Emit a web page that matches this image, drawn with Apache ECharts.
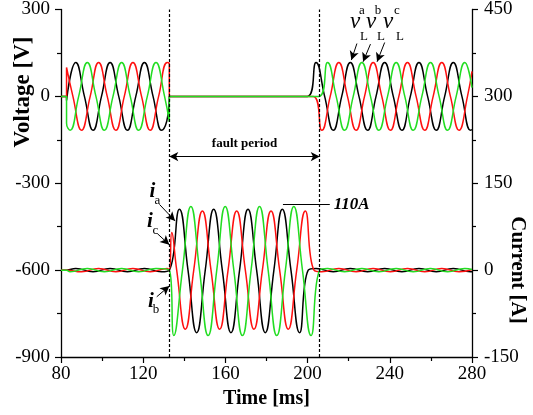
<!DOCTYPE html>
<html>
<head>
<meta charset="utf-8">
<script src="https://cdn.jsdelivr.net/npm/echarts@6/dist/echarts.min.js"></script>
<style>
  html, body { margin: 0; padding: 0; background: #fff; }
  #chart { width: 533px; height: 415px; }
</style>
</head>
<body>
<div id="chart"></div>
<script>
// time in ms, voltage in V (left axis), current in A (right axis)
const faultStart = 132.7;
const faultEnd = 205.9;

// load voltages (peaks / zero crossings)
const vA = [[80,0],[82.7,0],[82.7,-14],[87.2,117],[91.4,0],[95.6,-117],[99.7,0],[103.9,117],[108.1,0],[112.3,-117],[116.4,0],[120.6,117],[124.8,0],[128.9,-117],[132.7,-14],[132.7,0],
  [199.9,0],[204.1,117],[208.3,0],[212.5,-117],[216.6,0],[220.8,117],[225.0,0],[229.2,-117],[233.3,0],[237.5,117],[241.7,0],[245.9,-117],[250.0,0],[254.2,117],[258.4,0],[262.6,-117],[266.7,0],[270.9,117],[275.1,0],[279.3,-117],[280,-115]];
const vB = [[80,0],[82.7,0],[82.7,-93],[84.4,-117],[88.6,0],[92.8,117],[97.0,0],[101.1,-117],[105.3,0],[109.5,117],[113.7,0],[117.8,-117],[122.0,0],[126.2,117],[130.4,0],[132.7,-88],[132.7,0],
  [205.5,0],[209.7,117],[213.9,0],[218.0,-117],[222.2,0],[226.4,117],[230.6,0],[234.7,-117],[238.9,0],[243.1,117],[247.3,0],[251.4,-117],[255.6,0],[259.8,117],[264.0,0],[268.1,-117],[272.3,0],[276.5,117],[280,30]];
const vC = [[80,0],[82.7,0],[82.7,100],[85.8,0],[90.0,-117],[94.2,0],[98.3,117],[102.5,0],[106.7,-117],[110.8,0],[115.0,117],[119.2,0],[123.4,-117],[127.5,0],[131.7,117],[132.7,112],[132.7,0],
  [202.7,0],[206.9,-117],[211.0,0],[215.2,117],[219.4,0],[223.6,-117],[227.7,0],[231.9,117],[236.1,0],[240.3,-117],[244.4,0],[248.6,117],[252.8,0],[257.0,-117],[261.1,0],[265.3,117],[269.5,0],[273.7,-117],[277.8,0],[280,86]];

// line currents
const iA = [[80,0],[82.7,0],[87.2,3],[95.6,-3],[103.9,3],[112.3,-3],[120.6,3],[128.9,-3],[132.7,0],
  [137.6,105],[141.8,0],[146.0,-108],[150.2,0],[154.3,105],[158.5,0],[162.7,-108],[166.9,0],[171.0,105],[175.2,0],[179.4,-108],[183.6,0],[187.7,105],[191.9,0],[196.1,-108],[200.3,0],
  [204.1,3],[212.5,-3],[220.8,3],[229.2,-3],[237.5,3],[245.9,-3],[254.2,3],[262.6,-3],[270.9,3],[279.3,-3],[280,-3]];
const iB = [[80,0],[82.7,0],[84.4,-3],[92.8,3],[101.1,-3],[109.5,3],[117.8,-3],[126.2,3],[132.7,0],
  [134.9,-113],[139.1,0],[143.2,110],[147.4,0],[151.6,-113],[155.8,0],[159.9,110],[164.1,0],[168.3,-113],[172.5,0],[176.6,110],[180.8,0],[185.0,-113],[189.2,0],[193.3,110],[197.5,0],[201.7,-113],[205.9,0],
  [209.7,3],[218.0,-3],[226.4,3],[234.7,-3],[243.1,3],[251.4,-3],[259.8,3],[268.1,-3],[276.5,3],[280,1]];
const iC = [[80,0],[82.7,0],[90.0,-3],[98.3,3],[106.7,-3],[115.0,3],[123.4,-3],[131.7,3],[132.7,0],
  [133.9,65],[136.3,0],[140.5,-102],[144.6,0],[148.8,102],[153.0,0],[157.2,-102],[161.3,0],[165.5,102],[169.7,0],[173.9,-102],[178.0,0],[182.2,102],[186.4,0],[190.6,-102],[194.7,0],[198.9,102],[203.1,0],
  [206.9,-3],[215.2,3],[223.6,-3],[231.9,3],[240.3,-3],[248.6,3],[257.0,-3],[265.3,3],[273.7,-3],[280,1]];

const serif = '"Liberation Serif", "DejaVu Serif", serif';
const BLACK = '#000000', RED = '#ff1010', GREEN = '#22dd22';

function wave(name, data, color, axis, extra) {
  return Object.assign({
    name: name,
    type: 'line',
    yAxisIndex: axis,
    data: data,
    smooth: 0.5,
    showSymbol: false,
    symbol: 'none',
    clip: true,
    lineStyle: { color: color, width: 1.5 },
    itemStyle: { color: color },
    animation: false
  }, extra || {});
}

// arrow from a label to a curve, in voltage-axis coords
function arrow(x0, y0, x1, y1) {
  return [{ coord: [x0, y0], symbol: 'none' }, { coord: [x1, y1], symbol: 'arrow' }];
}

function txt(s, x, y, font) {
  return {
    type: 'text', x: x, y: y, silent: true, z: 100,
    style: { text: s, font: font, fill: '#000', textAlign: 'center', textVerticalAlign: 'middle', align: 'center', verticalAlign: 'middle' }
  };
}

const axisCommon = {
  axisLine: { show: true, onZero: false, lineStyle: { color: '#000', width: 1.3 } },
  axisTick: { show: true, inside: false, length: 6, lineStyle: { color: '#000', width: 1.2 } },
  minorTick: { show: true, splitNumber: 2, length: 4, lineStyle: { color: '#000', width: 1.2 } },
  splitLine: { show: false },
  axisLabel: { color: '#000', fontFamily: serif, fontSize: 19 }
};

const chart = echarts.init(document.getElementById('chart'), null, { renderer: 'canvas' });

const option = {
  backgroundColor: '#ffffff',
  animation: false,
  grid: { left: 61, right: 61, top: 9, bottom: 58 },
  xAxis: Object.assign({}, axisCommon, {
    type: 'value', min: 80, max: 280, interval: 40,
    name: 'Time [ms]', nameLocation: 'middle', nameGap: 31,
    nameTextStyle: { color: '#000', fontFamily: serif, fontSize: 20, fontWeight: 'bold' },
    axisLabel: Object.assign({}, axisCommon.axisLabel, { margin: 8 })
  }),
  yAxis: [
    Object.assign({}, axisCommon, {
      type: 'value', min: -900, max: 300, interval: 300, position: 'left',
      axisLabel: Object.assign({}, axisCommon.axisLabel, { margin: 11 })
    }),
    Object.assign({}, axisCommon, {
      type: 'value', min: -150, max: 450, interval: 150, position: 'right',
      axisLabel: Object.assign({}, axisCommon.axisLabel, { margin: 12 })
    })
  ],
  series: [
    wave('vLa', vA, BLACK, 0, {
      markLine: {
        silent: true, animation: false,
        symbol: ['none', 'none'], symbolSize: [7, 9],
        label: { show: false },
        lineStyle: { color: '#000', width: 1, type: 'solid' },
        data: [
          { xAxis: faultStart, lineStyle: { type: [3, 2], width: 1.2 } },
          { xAxis: faultEnd, lineStyle: { type: [3, 2], width: 1.2 } },
          [{ coord: [faultStart, -208], symbol: 'arrow',
             label: { show: true, position: 'middle', formatter: 'fault period', color: '#000',
                      fontFamily: serif, fontSize: 13, fontWeight: 'bold',
                      backgroundColor: '#fff', padding: [1, 3] } },
           { coord: [faultEnd, -208], symbol: 'arrow' }],
          [{ coord: [188.0, -373], symbol: 'none',
             label: { show: true, position: 'end', formatter: '110A', color: '#000', distance: 4,
                      fontFamily: serif, fontSize: 17, fontWeight: 'bold', fontStyle: 'italic' } },
           { coord: [210.8, -373], symbol: 'none' }],
          arrow(224.0, 182.5, 221.3, 125.4),
          arrow(230.6, 180.5, 227.0, 119.5),
          arrow(237.5, 186.0, 233.8, 119.5),
          arrow(127.9, -373, 135.5, -430),
          arrow(126.9, -474, 132.7, -512),
          arrow(126.6, -692, 132.7, -655)
        ]
      }
    }),
    wave('vLc', vC, RED, 0),
    wave('vLb', vB, GREEN, 0),
    wave('ia', iA, BLACK, 1),
    wave('ic', iC, RED, 1),
    wave('ib', iB, GREEN, 1)
  ],
  graphic: [
    txt('Voltage [V]', 23, 92, 'bold 23px ' + serif),
    Object.assign(txt('Current [A]', 517, 270, 'bold 21px ' + serif), { rotation: -Math.PI / 2 }),
    txt('v', 355, 22, 'italic 23px ' + serif), txt('a', 362, 11, '13px ' + serif), txt('L', 364, 37, '13px ' + serif),
    txt('v', 371, 22, 'italic 23px ' + serif), txt('b', 378, 11, '13px ' + serif), txt('L', 381, 37, '13px ' + serif),
    txt('v', 388, 22, 'italic 23px ' + serif), txt('c', 397, 11, '13px ' + serif), txt('L', 400, 37, '13px ' + serif),
    txt('i', 152.5, 191.5, 'italic bold 21px ' + serif), txt('a', 157.5, 200.5, '13px ' + serif),
    txt('i', 150, 221.5, 'italic bold 21px ' + serif), txt('c', 155.5, 230.5, '13px ' + serif),
    txt('i', 151, 301.5, 'italic bold 21px ' + serif), txt('b', 156, 310, '13px ' + serif)
  ]
};
option.graphic[0].rotation = Math.PI / 2;

chart.setOption(option);
window.onresize = chart.resize;
</script>
</body>
</html>
